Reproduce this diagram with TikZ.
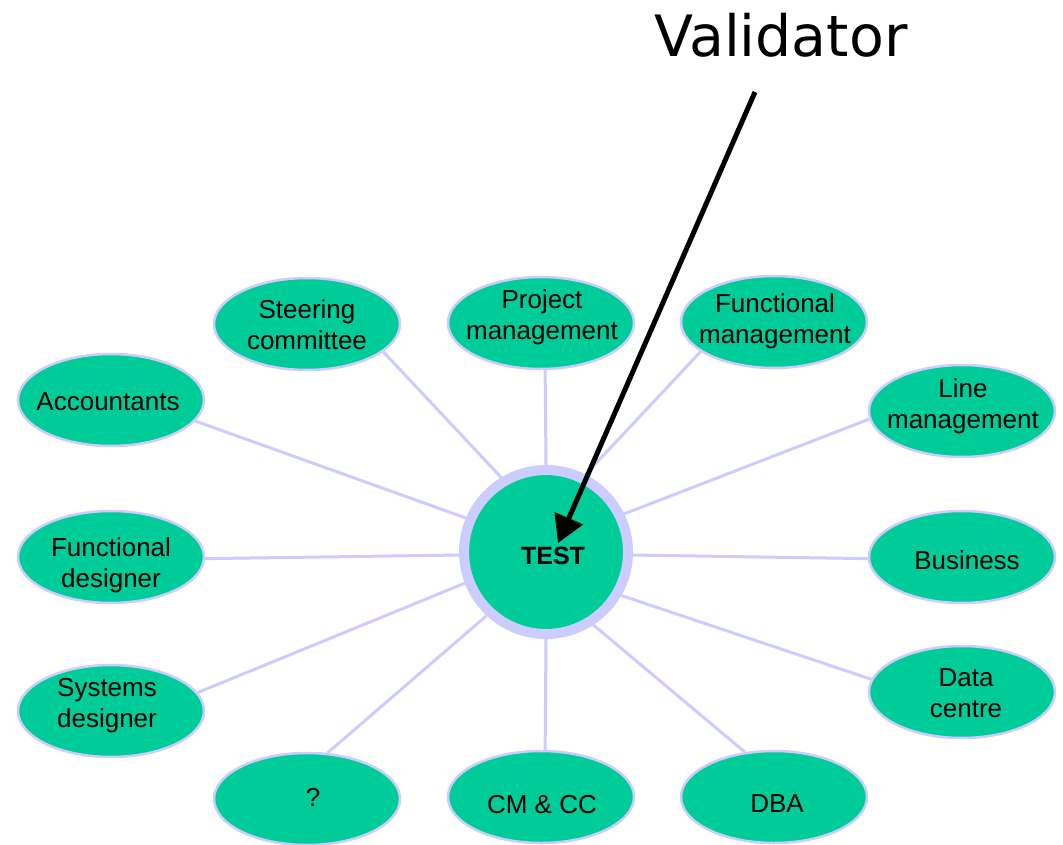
\documentclass[tikz,border=0pt]{standalone}
\usepackage{fontspec}
\setmainfont{Liberation Sans}
\newfontfamily\titlefont{DejaVu Sans}
\usetikzlibrary{arrows.meta,backgrounds,shapes.geometric}
\definecolor{bubblegreen}{HTML}{00CC99}
\definecolor{lavender}{HTML}{CCCCFF}
\begin{document}
\begin{tikzpicture}[x=1pt,y=-1pt,
  bubble/.style={ellipse, fill=bubblegreen, draw=lavender, line width=2.5pt,
    minimum width=186pt, minimum height=92pt, inner sep=0pt},
  caption/.style={font=\fontsize{26}{31}\selectfont, align=center,
    inner sep=0pt, text=black},
  spoke/.style={draw=lavender, line width=3pt},
  hub/.style={circle, fill=bubblegreen, draw=lavender, line width=10pt,
    minimum size=164pt, inner sep=0pt}]
\clip (0,0) rectangle (1063,845);
\useasboundingbox (0,0) rectangle (1063,845);

% central hub
\node[hub] (test) at (546,552) {};
\node[caption, font=\bfseries\fontsize{25}{30}\selectfont] (testlbl) at (553,556) {TEST};

% surrounding roles
\node[bubble] (steer) at (307,324) {};
\node[caption] (steerlbl) at (307,325) {Steering\\committee};
\node[bubble] (proj) at (541,323) {};
\node[caption] (projlbl) at (542,317) {Project\\management};
\node[bubble] (fmgmt) at (774,322) {};
\node[caption] (fmgmtlbl) at (775,321) {Functional\\management};
\node[bubble] (acc) at (111,400) {};
\node[caption] (acclbl) at (108,402) {Accountants};
\node[bubble] (line) at (962,411) {};
\node[caption] (linelbl) at (963,406) {Line\\management};
\node[bubble] (fdes) at (111,557) {};
\node[caption] (fdeslbl) at (111,565) {Functional\\designer};
\node[bubble] (bus) at (962,557) {};
\node[caption] (buslbl) at (967,560) {Business};
\node[bubble] (sdes) at (111,711) {};
\node[caption] (sdeslbl) at (107,706) {Systems\\designer};
\node[bubble] (dc) at (962,692) {};
\node[caption] (dclbl) at (966,693) {Data\\centre};
\node[bubble] (unk) at (307,799) {};
\node[caption] (unklbl) at (313,797) {?};
\node[bubble] (cm) at (541,797) {};
\node[caption] (cmlbl) at (542,805) {CM \& CC};
\node[bubble] (dba) at (774,797) {};
\node[caption] (dbalbl) at (777,804) {DBA};

% spokes from the hub to each role
\begin{scope}[on background layer]
\draw[spoke] (test.121.5) -- (steer.-20);
\draw[spoke] (test.90.7) -- (proj.-85);
\draw[spoke] (test.63.9) -- (fmgmt.-158);
\draw[spoke] (test.157.1) -- (acc.-14.2);
\draw[spoke] (test.26.9) -- (line.185.4);
\draw[spoke] (test.182) -- (fdes.-1.2);
\draw[spoke] (test.-2) -- (bus.181.2);
\draw[spoke] (test.201.7) -- (sdes.12.9);
\draw[spoke] (test.-30.1) -- (dc.172.8);
\draw[spoke] (test.227.8) -- (unk.66.7);
\draw[spoke] (test.-90.7) -- (cm.85.1);
\draw[spoke] (test.-57.9) -- (dba.123.7);
\end{scope}

% validator pointer
\node[font=\titlefont\fontsize{57}{60}\selectfont, anchor=base, inner sep=0pt]
  (validator) at (781,57) {Validator};
\coordinate (vstart) at (755,92);
\coordinate (vtip) at (558,543);
\draw[line width=5pt, -{Triangle[length=27pt,width=30pt]}] (vstart) -- (vtip);
\end{tikzpicture}
\end{document}
